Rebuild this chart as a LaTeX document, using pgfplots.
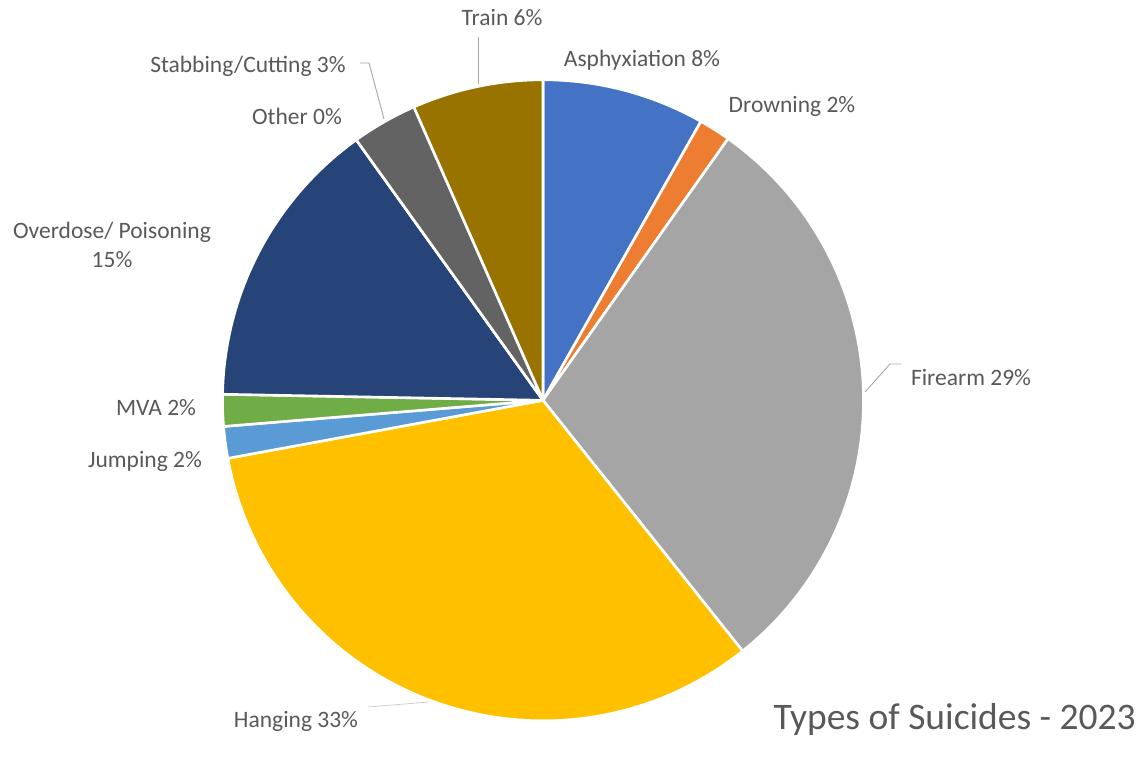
\documentclass[border=0pt]{standalone}
\usepackage{pgfplots}
\usepackage{pgfplotstable}
\pgfplotsset{compat=1.18}
\usepackage{fontspec}
\setmainfont{Carlito}
\definecolor{txt}{HTML}{595959}
\definecolor{leader}{HTML}{A6A6A6}
\definecolor{cA}{HTML}{4472C4}
\definecolor{cB}{HTML}{ED7D31}
\definecolor{cC}{HTML}{A5A5A5}
\definecolor{cD}{HTML}{FFC000}
\definecolor{cE}{HTML}{5B9BD5}
\definecolor{cF}{HTML}{70AD47}
\definecolor{cG}{HTML}{264478}
\definecolor{cH}{HTML}{9E480E}
\definecolor{cI}{HTML}{636363}
\definecolor{cJ}{HTML}{997300}

% share of each type (percent), in Excel order (clockwise from the top)
\pgfplotstableread{
type            value colour
Asphyxiation    8.2   cA
Drowning        1.6   cB
Firearm         29.5  cC
Hanging         32.8  cD
Jumping         1.6   cE
MVA             1.6   cF
Overdose        14.8  cG
Other           0.0   cH
Stabbing        3.3   cI
Train           6.6   cJ
}\piedata

% pie geometry (picture units = pt, 1 unit per reference pixel)
\def\cx{543}
\def\cy{341.7}
\def\rad{320.5}

% cumulative angles computed from the table
\pgfplotstablegetrowsof{\piedata}
\pgfmathtruncatemacro{\nrows}{\pgfplotsretval-1}
\gdef\cum{0}
\pgfplotsforeachungrouped \i in {0,...,\nrows}{%
  \pgfplotstablegetelem{\i}{value}\of{\piedata}\let\val\pgfplotsretval
  \pgfplotstablegetelem{\i}{colour}\of{\piedata}%
  \expandafter\xdef\csname piecol\i\endcsname{\pgfplotsretval}%
  \pgfmathsetmacro{\aone}{90-3.6*\cum}%
  \pgfmathsetmacro{\newcum}{\cum+\val}%
  \pgfmathsetmacro{\atwo}{90-3.6*\newcum}%
  \expandafter\xdef\csname pieA\i\endcsname{\aone}%
  \expandafter\xdef\csname pieB\i\endcsname{\atwo}%
  \xdef\cum{\newcum}%
}

\begin{document}
\begin{tikzpicture}
\begin{axis}[
  scale only axis, width=1142pt, height=742pt,
  xmin=0, xmax=1142, ymin=0, ymax=742,
  hide axis, clip=false,
]
\path (axis cs:0,0) (axis cs:1142,742);
\pgfplotsforeachungrouped \i in {0,...,\nrows}{%
  \edef\temp{\noexpand\fill[\csname piecol\i\endcsname, draw=white, line width=2.6pt, line join=round]
    (axis cs:\cx,\cy) -- ++(\csname pieA\i\endcsname:\rad pt)
    arc[start angle=\csname pieA\i\endcsname, end angle=\csname pieB\i\endcsname, radius=\rad pt] -- cycle;}%
  \temp
}
% leader lines
\draw[leader, line width=0.9pt] (axis cs:360,679) -- (axis cs:369,679) -- (axis cs:384,623);
\draw[leader, line width=0.9pt] (axis cs:478,705) -- (axis cs:478,658);
\draw[leader, line width=0.9pt] (axis cs:865,350) -- (axis cs:890,378) -- (axis cs:901,378);
\draw[leader!60, line width=0.7pt] (axis cs:368,35) -- (axis cs:429,40);
% data labels
\begin{scope}[every node/.style={text=txt, font=\fontsize{23.5}{28}\selectfont, inner sep=0pt}]
\node at (axis cs:502,724) {Train 6\%};
\node at (axis cs:642,682) {Asphyxiation 8\%};
\node at (axis cs:792,636) {Drowning 2\%};
\node at (axis cs:971,364) {Firearm 29\%};
\node at (axis cs:296,21) {Hanging 33\%};
\node at (axis cs:145,281) {Jumping 2\%};
\node at (axis cs:156,334) {MVA 2\%};
\node[align=center, font=\fontsize{23.5}{29}\selectfont] at (axis cs:112,497) {Overdose/ Poisoning\\15\%};
\node at (axis cs:297,626) {Other 0\%};
\node at (axis cs:248,676) {Stabbing/Cutting 3\%};
\end{scope}
\node[text=txt, font=\fontsize{37.5}{44}\selectfont, inner sep=0pt, anchor=east] at (axis cs:1136,22) {Types of Suicides - 2023};
\end{axis}
\end{tikzpicture}
\end{document}
